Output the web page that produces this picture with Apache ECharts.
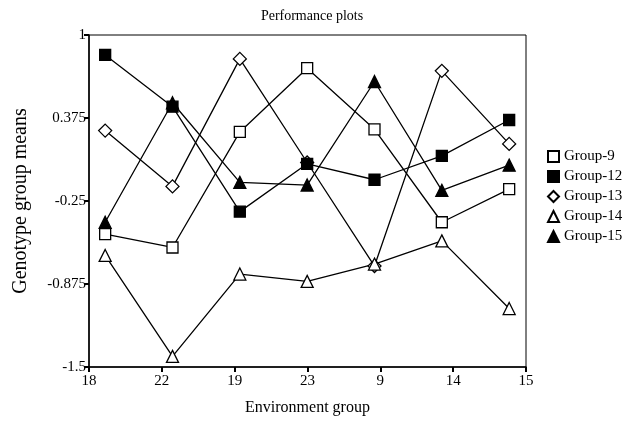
<!DOCTYPE html>
<html>
	<head>
		<meta charset="utf-8">
		<title>Performance plots</title>
	</head>
	<body style="margin:0">
		<div id="main" style="width: 641px;height:425px;"></div>
	</body>
	<script src="https://cdn.jsdelivr.net/npm/echarts@6/dist/echarts.min.js"></script>
	<script type="text/javascript">
		'use strict'

		// environment groups on the x axis
		var envGroups = ['18', '22', '19', '23', '9', '14', '15'];
		// y axis tick labels
		var yTicks = [-1.5, -0.875, -0.25, 0.375, 1];

		// genotype group means
		var group9  = [-0.50, -0.60, 0.27, 0.75, 0.29, -0.41, -0.16];
		var group12 = [0.85, 0.46, -0.33, 0.03, -0.09, 0.09, 0.36];
		var group13 = [0.28, -0.14, 0.82, 0.04, -0.74, 0.73, 0.18];
		var group14 = [-0.66, -1.42, -0.80, -0.855, -0.725, -0.55, -1.06];
		var group15 = [-0.41, 0.49, -0.11, -0.13, 0.65, -0.17, 0.02];

		var font = '"Liberation Serif", "Times New Roman", serif';

		function pts(arr) {
			return arr.map(function (v, i) { return [i, v]; });
		}

		function mk(name, data, symbol, size, filled, z) {
			return {
				name: name,
				type: 'line',
				xAxisIndex: 0,
				z: z,
				data: pts(data),
				symbol: symbol,
				symbolSize: size,
				showAllSymbol: true,
				lineStyle: { color: '#000', width: 1.3 },
				itemStyle: {
					color: filled ? '#000' : '#fff',
					borderColor: '#000',
					borderWidth: 1.3
				},
				emphasis: { disabled: true },
				animation: false
			};
		}

		var myChart = echarts.init(document.getElementById('main'));
		var option = {
			title: {
				text: 'Performance plots',
				left: 307,
				textAlign: 'center',
				top: 4,
				textStyle: { fontFamily: font, fontSize: 14, fontWeight: 'normal', color: '#000' }
			},
			legend: {
				orient: 'vertical',
				left: 542,
				top: 144,
				itemWidth: 11,
				itemHeight: 11,
				itemGap: 5,
				textStyle: { fontFamily: font, fontSize: 15, color: '#000' },
				data: [
					{ name: 'Group-9', icon: 'rect' },
					{ name: 'Group-12', icon: 'rect' },
					{ name: 'Group-13', icon: 'diamond' },
					{ name: 'Group-14', icon: 'triangle' },
					{ name: 'Group-15', icon: 'triangle' }
				]
			},
			grid: {
				left: 89,
				right: 115,
				top: 35,
				bottom: 58,
				show: true,
				borderColor: '#000',
				borderWidth: 1
			},
			xAxis: [{
				// hidden value axis that places the points
				type: 'value',
				min: -0.24,
				max: 6.25,
				show: false
			}, {
				type: 'category',
				data: envGroups,
				boundaryGap: false,
				position: 'bottom',
				name: 'Environment group',
				nameLocation: 'middle',
				nameGap: 33,
				nameTextStyle: { fontFamily: font, fontSize: 16, color: '#000' },
				axisLine: { lineStyle: { color: '#000', width: 1.5 } },
				axisTick: { lineStyle: { color: '#000', width: 2 }, length: 5 },
				axisLabel: { fontFamily: font, fontSize: 15, color: '#000', margin: 7 },
				splitLine: { show: false }
			}],
			yAxis: {
				type: 'value',
				min: -1.5,
				max: 1,
				name: 'Genotype group means',
				nameLocation: 'middle',
				nameGap: 58,
				nameTextStyle: { fontFamily: font, fontSize: 20, color: '#000' },
				axisLine: { show: true, onZero: false, lineStyle: { color: '#000', width: 1.5 } },
				axisTick: { show: true, customValues: yTicks, lineStyle: { color: '#000', width: 2 }, length: 5 },
				axisLabel: { customValues: yTicks, fontFamily: font, fontSize: 15, color: '#000', margin: 3 },
				splitLine: { show: false }
			},
			series: [
				mk('Group-9', group9, 'rect', 11, false, 2),
				mk('Group-12', group12, 'rect', 11, true, 4),
				mk('Group-13', group13, 'diamond', 13, false, 2),
				mk('Group-14', group14, 'triangle', 12, false, 2),
				mk('Group-15', group15, 'triangle', 12, true, 3)
			]
		};
		myChart.setOption(option);
	</script>
</html>
